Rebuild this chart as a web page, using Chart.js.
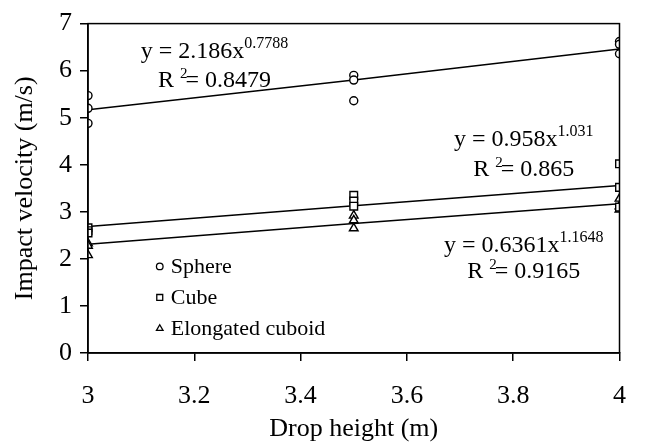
<!DOCTYPE html>
<html>
<head>
<meta charset="utf-8">
<title>Impact velocity vs drop height</title>
<script src="https://cdn.jsdelivr.net/npm/chart.js@4.4.1/dist/chart.umd.min.js"></script>
<style>
  html, body { margin: 0; padding: 0; background: #fff; }
  #chart { display: block; }
</style>
</head>
<body>
<canvas id="chart" width="646" height="447"></canvas>
<script>
// measured points (three drops per height)
const dropHeights = [3, 3, 3, 3.5, 3.5, 3.5, 4, 4, 4];
const sphereVelocity = [5.47, 5.2, 4.88, 5.9, 5.8, 5.36, 6.62, 6.56, 6.36];
const cubeVelocity = [2.66, 2.6, 2.55, 3.35, 3.23, 3.12, 4.02, 3.52, 3.1];
const cuboidVelocity = [2.33, 2.28, 2.08, 2.92, 2.82, 2.65, 3.28, 3.12, 3.05];

// power trend lines as drawn in the picture
const trendHeights = [3, 3.5, 4];
const sphereTrend = [5.17, 5.8, 6.46];
const cubeTrend = [2.69, 3.13, 3.56];
const cuboidTrend = [2.31, 2.75, 3.17];

const seriesNames = ['Sphere', 'Cube', 'Elongated cuboid'];
const equationText = ['y = 2.186x', 'y = 0.958x', 'y = 0.6361x'];
const equationPower = ['0.7788', '1.031', '1.1648'];
const rSquared = ['0.8479', '0.865', '0.9165'];

const xTicks = [3, 3.2, 3.4, 3.6, 3.8, 4];
const yTicks = [0, 1, 2, 3, 4, 5, 6, 7];

const serif = '"Liberation Serif", "Times New Roman", serif';
const markerStyles = ['circle', 'rect', 'triangle'];
const markerSizes = [4, 5.4, 5];

// where the equation labels sit (data coords, centre / baseline)
const equationSpots = [
  { x: 3.238, y: 6.27, y2: 5.65 },
  { x: 3.82, y: 4.39, y2: 3.77 },
  { x: 3.82, y: 2.15, y2: 1.60 }
];
const legendSpot = { x: 3.135, y: 1.84, gap: 0.66 };

function points(xs, ys) {
  return xs.map((x, i) => ({ x, y: ys[i] }));
}

function scatterSet(label, values, i) {
  return {
    label,
    data: points(dropHeights, values),
    showLine: false,
    pointStyle: markerStyles[i],
    pointRadius: markerSizes[i],
    pointHoverRadius: markerSizes[i],
    pointBorderColor: '#000',
    pointBackgroundColor: '#fff',
    pointBorderWidth: 1.4,
    order: 0
  };
}

function trendSet(values) {
  return {
    label: 'trend',
    data: points(trendHeights, values),
    showLine: true,
    borderColor: '#000',
    borderWidth: 1.5,
    pointRadius: 0,
    tension: 0,
    order: 1
  };
}

function drawMarker(ctx, style, x, y, r) {
  ctx.save();
  ctx.strokeStyle = '#000';
  ctx.fillStyle = '#fff';
  ctx.lineWidth = 1.3;
  Chart.helpers.drawPoint(ctx, { pointStyle: style, radius: r, rotation: 0, borderWidth: 1.3 }, x, y);
  ctx.restore();
}

const annotations = {
  id: 'annotations',
  afterDatasetsDraw(chart) {
    const { ctx, chartArea, scales } = chart;
    const xs = scales.x, ys = scales.y;
    ctx.save();

    // box round the plot area
    ctx.strokeStyle = '#000';
    ctx.lineWidth = 1.5;
    ctx.strokeRect(chartArea.left, chartArea.top, chartArea.right - chartArea.left, chartArea.bottom - chartArea.top);

    ctx.fillStyle = '#000';
    ctx.textBaseline = 'alphabetic';

    // trend equations
    equationSpots.forEach((spot, i) => {
      const cx = xs.getPixelForValue(spot.x);
      ctx.font = '24px ' + serif;
      const baseW = ctx.measureText(equationText[i]).width;
      ctx.font = '16px ' + serif;
      const powW = ctx.measureText(equationPower[i]).width;
      let left = cx - (baseW + powW) / 2;
      const by = ys.getPixelForValue(spot.y);
      ctx.font = '24px ' + serif;
      ctx.textAlign = 'left';
      ctx.fillText(equationText[i], left, by);
      ctx.font = '16px ' + serif;
      ctx.fillText(equationPower[i], left + baseW, by - 10);

      // R ² = value
      const by2 = ys.getPixelForValue(spot.y2);
      ctx.font = '24px ' + serif;
      const rW = ctx.measureText('R ').width;
      const restText = '= ' + rSquared[i];
      const restW = ctx.measureText(restText).width;
      ctx.font = '15px ' + serif;
      const twoW = ctx.measureText('2').width;
      const total = rW + twoW - 2 + restW;
      left = cx - total / 2;
      ctx.font = '24px ' + serif;
      ctx.fillText('R ', left, by2);
      ctx.font = '15px ' + serif;
      ctx.fillText('2', left + rW, by2 - 9);
      ctx.font = '24px ' + serif;
      ctx.fillText(restText, left + rW + twoW - 2, by2);
    });

    // legend
    const lx = xs.getPixelForValue(legendSpot.x);
    seriesNames.forEach((name, i) => {
      const ly = ys.getPixelForValue(legendSpot.y - i * legendSpot.gap);
      drawMarker(ctx, markerStyles[i], lx, ly, [3.3, 4.2, 3.8][i]);
      ctx.fillStyle = '#000';
      ctx.font = '22px ' + serif;
      ctx.textAlign = 'left';
      ctx.textBaseline = 'middle';
      ctx.fillText(name, lx + 11, ly + 1);
    });
    ctx.restore();
  }
};

new Chart(document.getElementById('chart'), {
  type: 'scatter',
  data: {
    datasets: [
      scatterSet(seriesNames[0], sphereVelocity, 0),
      scatterSet(seriesNames[1], cubeVelocity, 1),
      scatterSet(seriesNames[2], cuboidVelocity, 2),
      trendSet(sphereTrend),
      trendSet(cubeTrend),
      trendSet(cuboidTrend)
    ]
  },
  options: {
    responsive: false,
    animation: false,
    devicePixelRatio: 1,
    layout: { padding: { left: 0, right: 18, top: 17, bottom: 0 } },
    plugins: {
      legend: { display: false },
      tooltip: { enabled: false }
    },
    scales: {
      x: {
        type: 'linear',
        min: 3,
        max: 4,
        afterBuildTicks: s => { s.ticks = xTicks.map(v => ({ value: v })); },
        afterFit: s => { s.height = 94; },
        ticks: {
          color: '#000',
          font: { family: serif, size: 26 },
          padding: 20,
          maxRotation: 0,
          callback: v => String(v)
        },
        grid: { drawOnChartArea: false, drawTicks: true, tickLength: 8, color: '#000', lineWidth: 1.5 },
        border: { display: true, color: '#000', width: 1.5 },
        title: {
          display: true,
          text: 'Drop height (m)',
          color: '#000',
          font: { family: serif, size: 26 },
          padding: { top: 0, bottom: 2 }
        }
      },
      y: {
        type: 'linear',
        min: 0,
        max: 7,
        afterBuildTicks: s => { s.ticks = yTicks.map(v => ({ value: v })); },
        afterFit: s => { s.width = 88; },
        ticks: {
          color: '#000',
          font: { family: serif, size: 26 },
          padding: 8,
          callback: v => String(v)
        },
        grid: { drawOnChartArea: false, drawTicks: true, tickLength: 8, color: '#000', lineWidth: 1.5 },
        border: { display: true, color: '#000', width: 1.5 },
        title: {
          display: true,
          text: 'Impact velocity (m/s)',
          color: '#000',
          font: { family: serif, size: 26 },
          padding: { top: 10, bottom: 0 }
        }
      }
    }
  },
  plugins: [annotations]
});
</script>
</body>
</html>
